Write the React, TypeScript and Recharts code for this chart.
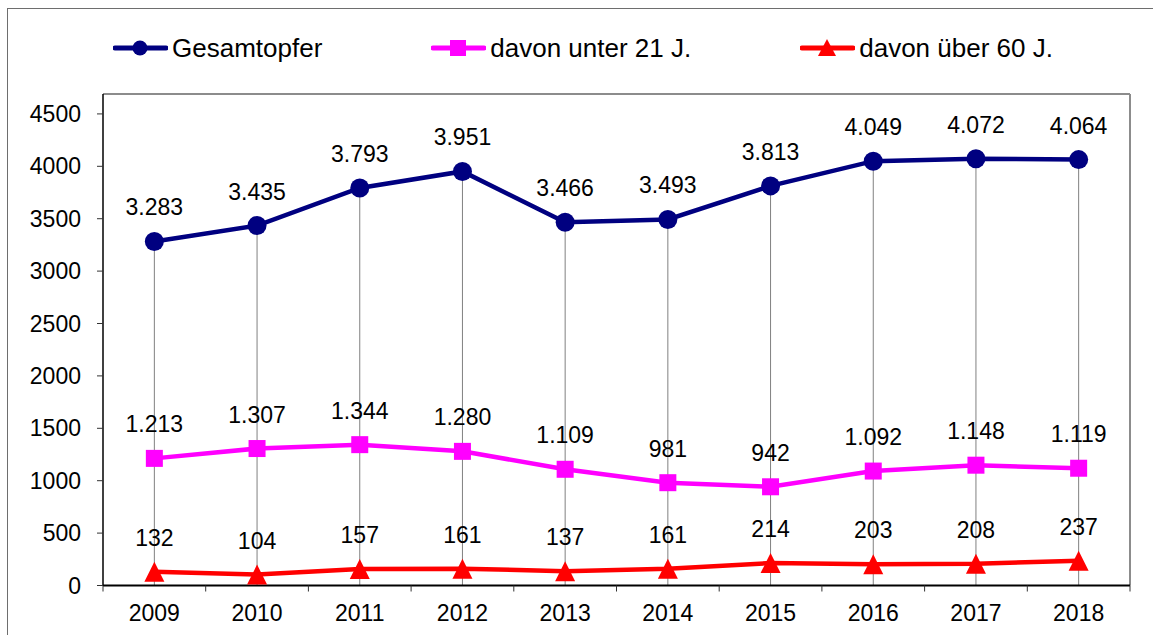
import React from "react";
import { LineChart, Line, XAxis, YAxis, LabelList, ReferenceLine } from "recharts";

// Opferzahlen pro Jahr
const years = [2009, 2010, 2011, 2012, 2013, 2014, 2015, 2016, 2017, 2018];
const gesamt = [3283, 3435, 3793, 3951, 3466, 3493, 3813, 4049, 4072, 4064];
const unter21 = [1213, 1307, 1344, 1280, 1109, 981, 942, 1092, 1148, 1119];
const ueber60 = [132, 104, 157, 161, 137, 161, 214, 203, 208, 237];
const yTicks = [0, 500, 1000, 1500, 2000, 2500, 3000, 3500, 4000, 4500];

const data = years.map((year, i) => ({
  year,
  gesamt: gesamt[i],
  unter21: unter21[i],
  ueber60: ueber60[i],
}));

// category boundaries for the Excel-style tick marks between years
const boundaries = [...years.map((y) => y - 0.5), years[years.length - 1] + 0.5];
const xMin = boundaries[0];
const xMax = boundaries[boundaries.length - 1];
const yMax = 4690;

const FONT = "'Liberation Sans', Arial, sans-serif";

const fmt = (v: any) => {
  const n = Number(v);
  if (n < 1000) return String(n);
  return Math.floor(n / 1000) + "." + String(n % 1000).padStart(3, "0");
};

const Square = (props: any) => {
  const { cx, cy, index } = props;
  return <rect key={"sq" + index} x={cx - 8.5} y={cy - 8.5} width={17} height={17} fill="#FF00FF" />;
};

const Triangle = (props: any) => {
  const { cx, cy, index } = props;
  return (
    <path
      key={"tr" + index}
      d={`M${cx},${cy - 10} L${cx + 10},${cy + 10} L${cx - 10},${cy + 10} Z`}
      fill="#FF0000"
    />
  );
};

const legendItems = [
  { name: "Gesamtopfer", color: "#000080", marker: "circle" },
  { name: "davon unter 21 J.", color: "#FF00FF", marker: "square" },
  { name: "davon über 60 J.", color: "#FF0000", marker: "triangle" },
];

function LegendIcon({ color, marker }: { color: string; marker: string }) {
  return (
    <svg width={55} height={24} style={{ display: "block" }}>
      <line x1={2} y1={12} x2={53} y2={12} stroke={color} strokeWidth={5} strokeLinecap="round" />
      {marker === "circle" && <circle cx={27} cy={12} r={7.5} fill={color} />}
      {marker === "square" && <rect x={19} y={4} width={16} height={16} fill={color} />}
      {marker === "triangle" && <path d="M27,3 L36,20 L18,20 Z" fill={color} />}
    </svg>
  );
}

export default function App() {
  return (
    <div
      style={{
        position: "fixed",
        left: 0,
        top: 0,
        width: 1153,
        height: 635,
        overflow: "hidden",
        background: "#fff",
        fontFamily: FONT,
      }}
    >
      <div
        style={{
          position: "absolute",
          left: 7,
          top: 8,
          width: 1200,
          height: 700,
          border: "1px solid #6e6e6e",
        }}
      />
      <div
        style={{
          position: "absolute",
          left: 113,
          top: 35,
          display: "flex",
          alignItems: "center",
          gap: 109,
        }}
      >
        {legendItems.map((it) => (
          <div key={it.name} style={{ display: "flex", alignItems: "center", gap: 4 }}>
            <LegendIcon color={it.color} marker={it.marker} />
            <span style={{ fontSize: 26, color: "#000", lineHeight: "26px" }}>{it.name}</span>
          </div>
        ))}
      </div>
      <div style={{ position: "absolute", left: 8, top: 8 }}>
        <LineChart
          width={1145}
          height={627}
          data={data}
          margin={{ top: 86, right: 23, bottom: 0, left: 0 }}
          style={{ fontFamily: FONT }}
        >
          {years.map((yr, i) => (
            <ReferenceLine
              key={"drop" + yr}
              segment={[
                { x: yr, y: 0 },
                { x: yr, y: gesamt[i] },
              ]}
              stroke="#808080"
              strokeWidth={1}
            />
          ))}
          <ReferenceLine y={yMax} stroke="#8c8c8c" strokeWidth={2} />
          <ReferenceLine x={xMax} stroke="#8c8c8c" strokeWidth={2} />
          <XAxis
            dataKey="year"
            type="number"
            domain={[xMin, xMax]}
            ticks={boundaries}
            tickFormatter={() => ""}
            tickSize={6}
            height={8}
            stroke="#000"
            strokeWidth={2}
            tickLine={{ stroke: "#333", strokeWidth: 1 }}
            allowDataOverflow
          />
          <XAxis
            xAxisId="labels"
            dataKey="year"
            type="number"
            domain={[xMin, xMax]}
            ticks={years}
            axisLine={false}
            tickLine={false}
            tickSize={0}
            tickMargin={11.5}
            height={41.5}
            tick={{ fill: "#000", fontSize: 23, fontFamily: FONT }}
            allowDataOverflow
          />
          <YAxis
            type="number"
            domain={[0, yMax]}
            ticks={yTicks}
            width={95}
            tickSize={6}
            tickMargin={16}
            stroke="#000"
            strokeWidth={1.5}
            tickLine={{ stroke: "#333", strokeWidth: 1 }}
            tick={{ fill: "#000", fontSize: 23, fontFamily: FONT }}
            allowDataOverflow
          />
          <Line
            dataKey="gesamt"
            stroke="#000080"
            strokeWidth={4.5}
            dot={{ r: 9.5, fill: "#000080", stroke: "none" }}
            isAnimationActive={false}
          >
            <LabelList dataKey="gesamt" position="top" offset={26} formatter={fmt} fill="#000" fontSize={23} fontFamily={FONT} />
          </Line>
          <Line
            dataKey="unter21"
            stroke="#FF00FF"
            strokeWidth={4.5}
            dot={Square}
            isAnimationActive={false}
          >
            <LabelList dataKey="unter21" position="top" offset={26} formatter={fmt} fill="#000" fontSize={23} fontFamily={FONT} />
          </Line>
          <Line
            dataKey="ueber60"
            stroke="#FF0000"
            strokeWidth={4.5}
            dot={Triangle}
            isAnimationActive={false}
          >
            <LabelList dataKey="ueber60" position="top" offset={26} formatter={fmt} fill="#000" fontSize={23} fontFamily={FONT} />
          </Line>
        </LineChart>
      </div>
    </div>
  );
}
